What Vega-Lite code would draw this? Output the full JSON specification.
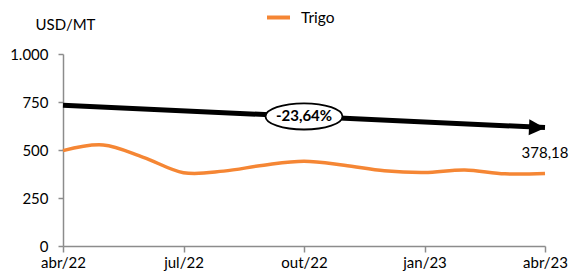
{
  "$schema": "https://vega.github.io/schema/vega-lite/v6.json",
  "width": 482,
  "height": 192,
  "autosize": {"type": "none"},
  "padding": {"left": 63, "top": 54, "right": 24, "bottom": 32},
  "background": "white",
  "config": {
    "font": "Lato",
    "view": {"stroke": null},
    "axis": {"labelFont": "Lato", "titleFont": "Lato", "labelColor": "#000", "titleColor": "#000", "domainColor": "#8c8c8c", "tickColor": "#8c8c8c", "grid": false, "labelFontSize": 15, "domainWidth": 1.5, "tickWidth": 1.5}
  },
  "datasets": {
    "trigo": [
      {"m": "abr/22", "v": 497},
      {"m": "mai/22", "v": 526},
      {"m": "jun/22", "v": 462},
      {"m": "jul/22", "v": 382},
      {"m": "ago/22", "v": 390},
      {"m": "set/22", "v": 421},
      {"m": "out/22", "v": 441},
      {"m": "nov/22", "v": 421},
      {"m": "dez/22", "v": 392},
      {"m": "jan/23", "v": 383},
      {"m": "fev/23", "v": 396},
      {"m": "mar/23", "v": 376},
      {"m": "abr/23", "v": 378.18}
    ],
    "arrow": [{"m": "abr/22", "v": 733}, {"m": "abr/23", "v": 617}],
    "head": [{"m": "abr/23", "v": 617}],
    "badge": [{"m": "out/22", "v": 675, "label": "-23,64%"}],
    "last": [{"m": "abr/23", "v": 378.18, "label": "378,18"}]
  },
  "encoding": {
    "x": {
      "field": "m", "type": "ordinal",
      "scale": {"type": "point", "padding": 0, "domain": ["abr/22","mai/22","jun/22","jul/22","ago/22","set/22","out/22","nov/22","dez/22","jan/23","fev/23","mar/23","abr/23"]},
      "axis": {"values": ["abr/22","jul/22","out/22","jan/23","abr/23"], "labelAngle": 0, "tickSize": 6, "labelPadding": 3, "title": null}
    },
    "y": {
      "field": "v", "type": "quantitative",
      "scale": {"domain": [0, 1000], "nice": false},
      "axis": {"values": [0, 250, 500, 750, 1000], "labelExpr": "datum.value == 1000 ? '1.000' : datum.label", "tickSize": 5, "labelPadding": 10, "title": "USD/MT", "titleAngle": 0, "titleAlign": "left", "titleBaseline": "middle", "titleX": -28, "titleY": -30, "titleFontWeight": "normal", "titleFontSize": 15}
    }
  },
  "layer": [
    {
      "data": {"name": "trigo"},
      "mark": {"type": "line", "interpolate": "cardinal", "strokeWidth": 3.5},
      "encoding": {
        "color": {"datum": "Trigo", "scale": {"range": ["#F58634"]},
          "legend": {"title": null, "orient": "none", "legendX": 202, "legendY": -50, "symbolType": "stroke", "symbolSize": 529, "symbolStrokeWidth": 4, "labelFontSize": 15.5, "labelFont": "Lato", "labelColor": "#000", "labelOffset": 9}}
      }
    },
    {
      "data": {"name": "arrow"},
      "mark": {"type": "line", "color": "black", "strokeWidth": 5}
    },
    {
      "data": {"name": "head"},
      "mark": {"type": "point", "shape": "M -1 -1 L 1 0 L -1 1 Z", "size": 256, "filled": true, "color": "black", "opacity": 1, "xOffset": -8, "angle": 2.5}
    },
    {
      "data": {"name": "badge"},
      "mark": {"type": "point", "shape": "M -1 0 C -1 -0.188 -0.552 -0.34 0 -0.34 C 0.552 -0.34 1 -0.188 1 0 C 1 0.188 0.552 0.34 0 0.34 C -0.552 0.34 -1 0.188 -1 0 Z", "size": 5929, "filled": true, "fill": "white", "stroke": "black", "strokeWidth": 1.8, "opacity": 1}
    },
    {
      "data": {"name": "badge"},
      "mark": {"type": "text", "font": "Lato", "fontWeight": "bold", "fontSize": 15, "color": "black", "baseline": "middle", "align": "center"},
      "encoding": {"text": {"field": "label"}}
    },
    {
      "data": {"name": "last"},
      "mark": {"type": "text", "font": "Lato", "fontSize": 15, "color": "black", "baseline": "middle", "align": "center", "dy": -20},
      "encoding": {"text": {"field": "label"}}
    }
  ]
}
